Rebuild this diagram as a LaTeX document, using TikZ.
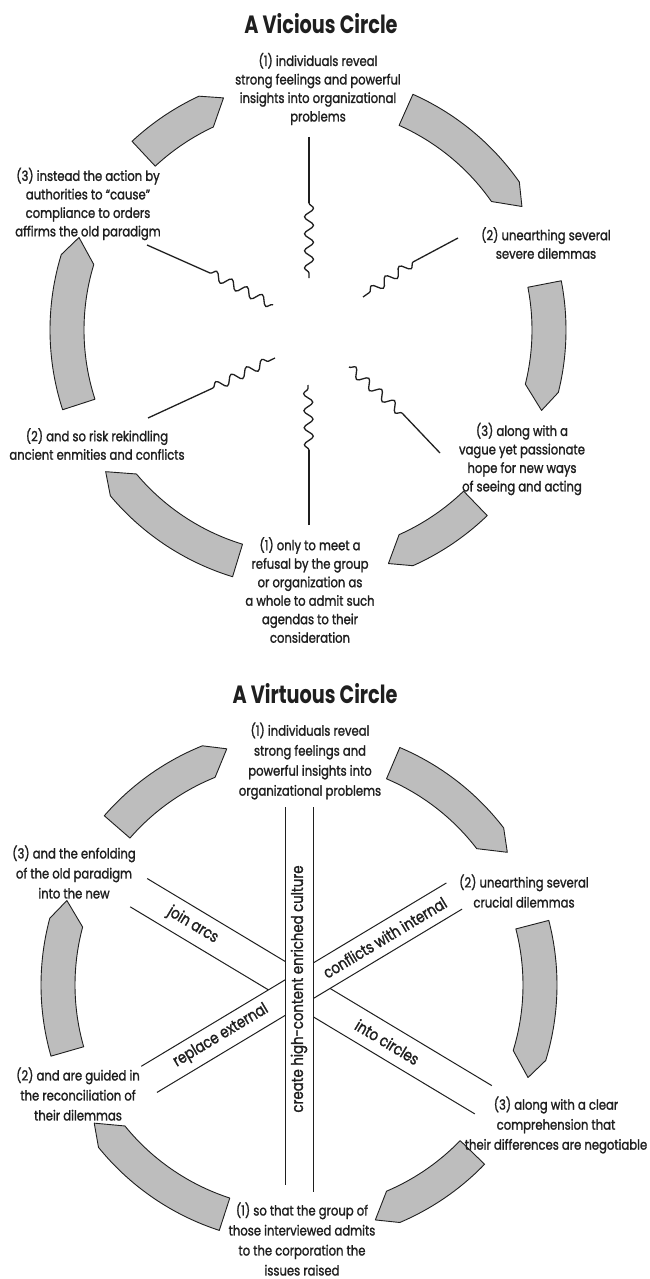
\documentclass[tikz,border=0pt]{standalone}
\usepackage{fontspec}
\newfontfamily\bodyfont{Poppins}[FakeStretch=0.83, FakeBold=1.4]
\newfontfamily\headfont{Poppins}[FakeStretch=0.77]
\usetikzlibrary{decorations.pathmorphing}
\definecolor{bandgray}{gray}{0.74}
\definecolor{ink}{gray}{0.12}

\tikzset{
  lbl/.style={align=center, text=ink, inner sep=0pt,
    font=\bodyfont\fontsize{14}{18.5}\selectfont},
  lblb/.style={lbl, font=\bodyfont\fontsize{14}{20}\selectfont},
  heading/.style={inner sep=0pt, text=ink,
    font=\headfont\bfseries\fontsize{25}{30}\selectfont},
  arcband/.style={fill=bandgray, draw=ink, line width=0.9pt, line join=round},
  stem/.style={line width=1.3pt, draw=ink},
  wave/.style={stem, decorate,
    decoration={snake, amplitude=4.5pt, segment length=17pt}},
  bandline/.style={line width=1pt, draw=ink},
  bandlbl/.style={inner sep=0pt, text=ink,
    font=\bodyfont\fontsize{16}{18}\selectfont},
}

% curved arrow band: centre x, centre y, tail angle, head angle (clockwise)
\newcommand\arrowband[4]{%
  \path[arcband]
    plot[domain=#3:#4, samples=40] ({#1+258*cos(\x)},{#2-258*sin(\x)})
    -- ({#1+247*cos(#4-5)},{#2-247*sin(#4-5)})
    -- plot[domain=#4:#3, samples=40] ({#1+224*cos(\x)},{#2-224*sin(\x)})
    -- cycle;}

\begin{document}
\begin{tikzpicture}[x=1pt, y=-1pt]
\fill[white] (0,0) rectangle (650,1279);
\useasboundingbox (0,0) rectangle (650,1279);

% ---------------- the vicious circle ----------------
\node[heading] (h1) at (321,24) {A Vicious Circle};

\arrowband{308}{330}{66}{35}
\arrowband{308}{330}{11}{-14}
\arrowband{308}{330}{-46}{-66}
\arrowband{308}{330}{-107}{-140}
\arrowband{308}{330}{198}{163}
\arrowband{308}{330}{133}{115}

\node[lbl] (v1) at (318,89) {(1) individuals reveal\\strong feelings and powerful\\insights into organizational\\problems};
\node[lbl] (v2) at (546,243) {(2) unearthing several\\severe dilemmas};
\node[lbl] (v3) at (522,459) {(3) along with a\\vague yet passionate\\hope for new ways\\of seeing and acting};
\node[lbl] (v4) at (310,590) {(1) only to meet a\\refusal by the group\\or organization as\\a whole to admit such\\agendas to their\\consideration};
\node[lbl] (v5) at (97,444) {(2) and so risk rekindling\\ancient enmities and conflicts};
\node[lbl] (v6) at (88,204) {(3) instead the action by\\authorities to “cause”\\compliance to orders\\affirms the old paradigm};

% spokes: straight from the label, wavy towards the centre
\coordinate (s1) at (309,137); \coordinate (b1) at (309,203); \coordinate (e1) at (309,278);
\coordinate (s2) at (458,238); \coordinate (b2) at (413,262); \coordinate (e2) at (363,297);
\coordinate (s3) at (440,453); \coordinate (b3) at (402,413); \coordinate (e3) at (349,367);
\coordinate (s4) at (309,525); \coordinate (b4) at (309,450); \coordinate (e4) at (308,385);
\coordinate (s5) at (148,418); \coordinate (b5) at (213,388); \coordinate (e5) at (275,358);
\coordinate (s6) at (147,245); \coordinate (b6) at (210,273); \coordinate (e6) at (273,305);
\foreach \i in {1,...,6}{
  \draw[stem] (s\i) -- (b\i);
  \draw[wave] (b\i) -- (e\i);
}

% ---------------- the virtuous circle ----------------
\node[heading] (h2) at (315,694) {A Virtuous Circle};

\arrowband{299}{985}{67}{37.5}
\arrowband{299}{985}{14.5}{-17}
\arrowband{299}{985}{-44}{-67}
\arrowband{299}{985}{-108}{-141}
\arrowband{299}{985}{196}{165}
\arrowband{299}{985}{139}{112}

% band "join arcs / into circles"
\begin{scope}[shift={(299,989)}, rotate=-31]
  \coordinate (ja) at (-187,-16.5); \coordinate (jb) at (215,-16.5);
  \coordinate (jc) at (-187,16.5);  \coordinate (jd) at (215,16.5);
  \draw[bandline] (ja) -- (jb) (jc) -- (jd);
  \node[bandlbl, rotate=-31] (lj) at (-124,0) {join arcs};
  \node[bandlbl, rotate=-31] (li) at (103,0) {into circles};
\end{scope}

% band "replace external / conflicts with internal"
\begin{scope}[shift={(299,989)}, rotate=31]
  \fill[white] (-175,-15) rectangle (181,15.5);
  \coordinate (ra) at (-175,-15); \coordinate (rb) at (181,-15);
  \coordinate (rc) at (-175,15.5); \coordinate (rd) at (181,15.5);
  \draw[bandline] (ra) -- (rb) (rc) -- (rd);
  \node[bandlbl, rotate=31] (lr) at (-91,0) {replace external};
  \node[bandlbl, rotate=31] (lc) at (100,0) {conflicts with internal};
\end{scope}

% vertical band
\fill[white] (285,807) rectangle (313,1188);
\coordinate (ca) at (285,807); \coordinate (cb) at (285,1185);
\coordinate (cc) at (313,807); \coordinate (cd) at (313,1192);
\draw[bandline] (ca) -- (cb) (cc) -- (cd);
\node[bandlbl, rotate=90] (lh) at (299,989) {create high-content enriched culture};

\node[lblb] (c1) at (310,761) {(1) individuals reveal\\strong feelings and\\powerful insights into\\organizational problems};
\node[lblb] (c2) at (524,891) {(2) unearthing several\\crucial dilemmas};
\node[lblb] (c3) at (556,1125) {(3) along with a clear\\comprehension that\\their differences are negotiable};
\node[lblb] (c4) at (302,1239) {(1) so that the group of\\those interviewed admits\\to the corporation the\\issues raised};
\node[lblb] (c5) at (78,1094) {(2) and are guided in\\the reconciliation of\\their dilemmas};
\node[lblb] (c6) at (74,872) {(3) and the enfolding\\of the old paradigm\\into the new};
\end{tikzpicture}
\end{document}
